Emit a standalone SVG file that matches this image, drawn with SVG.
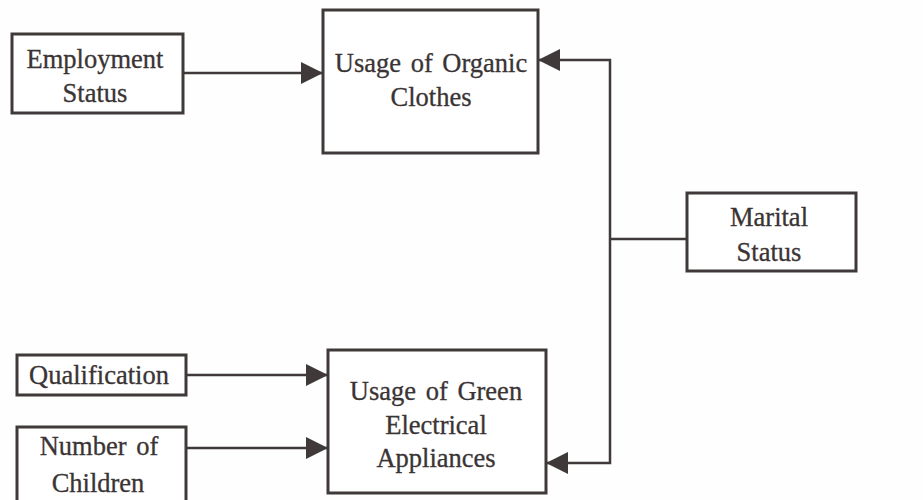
<svg xmlns="http://www.w3.org/2000/svg" width="923" height="500" viewBox="0 0 923 500">
  <style>
    .box { fill: #ffffff; stroke: #3f3939; stroke-width: 3; }
    .lbl { font-family: "Liberation Serif", "Times New Roman", serif; font-size: 26.5px; fill: #3a3434; stroke: #3a3434; stroke-width: 0.3; text-anchor: middle; }
    .conn { fill: none; stroke: #3f3939; stroke-width: 2.5; }
  </style>
  <defs>
    <marker id="arrow" markerUnits="userSpaceOnUse" markerWidth="22" markerHeight="22" viewBox="0 0 22 22" refX="22" refY="11" orient="auto">
      <path d="M0,0 L22,11 L0,22 z" fill="#3f3939"/>
    </marker>
  </defs>
  <rect width="923" height="500" fill="#fefefe"/>

  <g id="connectors">
    <line class="conn" x1="183" y1="73" x2="323" y2="73" marker-end="url(#arrow)"/>
    <line class="conn" x1="186" y1="375" x2="328" y2="375" marker-end="url(#arrow)"/>
    <line class="conn" x1="186" y1="448" x2="328" y2="448" marker-end="url(#arrow)"/>
    <line class="conn" x1="687" y1="239" x2="610" y2="239"/>
    <path class="conn" d="M610,239 V60 H538" marker-end="url(#arrow)"/>
    <path class="conn" d="M610,239 V463 H546" marker-end="url(#arrow)"/>
  </g>

  <g id="employment-status">
    <rect class="box" x="12" y="34" width="171" height="79"/>
    <text class="lbl" x="95" y="68">Employment</text>
    <text class="lbl" x="95" y="102">Status</text>
  </g>

  <g id="usage-organic-clothes">
    <rect class="box" x="323" y="10" width="215" height="143"/>
    <text class="lbl" x="431" y="72" word-spacing="3">Usage of Organic</text>
    <text class="lbl" x="431" y="106">Clothes</text>
  </g>

  <g id="marital-status">
    <rect class="box" x="687" y="193" width="169" height="78"/>
    <text class="lbl" x="769" y="226">Marital</text>
    <text class="lbl" x="769" y="261">Status</text>
  </g>

  <g id="qualification">
    <rect class="box" x="17" y="355" width="169" height="40"/>
    <text class="lbl" x="99" y="384">Qualification</text>
  </g>

  <g id="number-of-children">
    <rect class="box" x="17" y="427" width="169" height="80"/>
    <text class="lbl" x="99" y="455" word-spacing="3">Number of</text>
    <text class="lbl" x="98" y="492">Children</text>
  </g>

  <g id="usage-green-appliances">
    <rect class="box" x="328" y="350" width="218" height="143"/>
    <text class="lbl" x="436" y="400" word-spacing="3">Usage of Green</text>
    <text class="lbl" x="436" y="434">Electrical</text>
    <text class="lbl" x="436" y="467">Appliances</text>
  </g>
</svg>
